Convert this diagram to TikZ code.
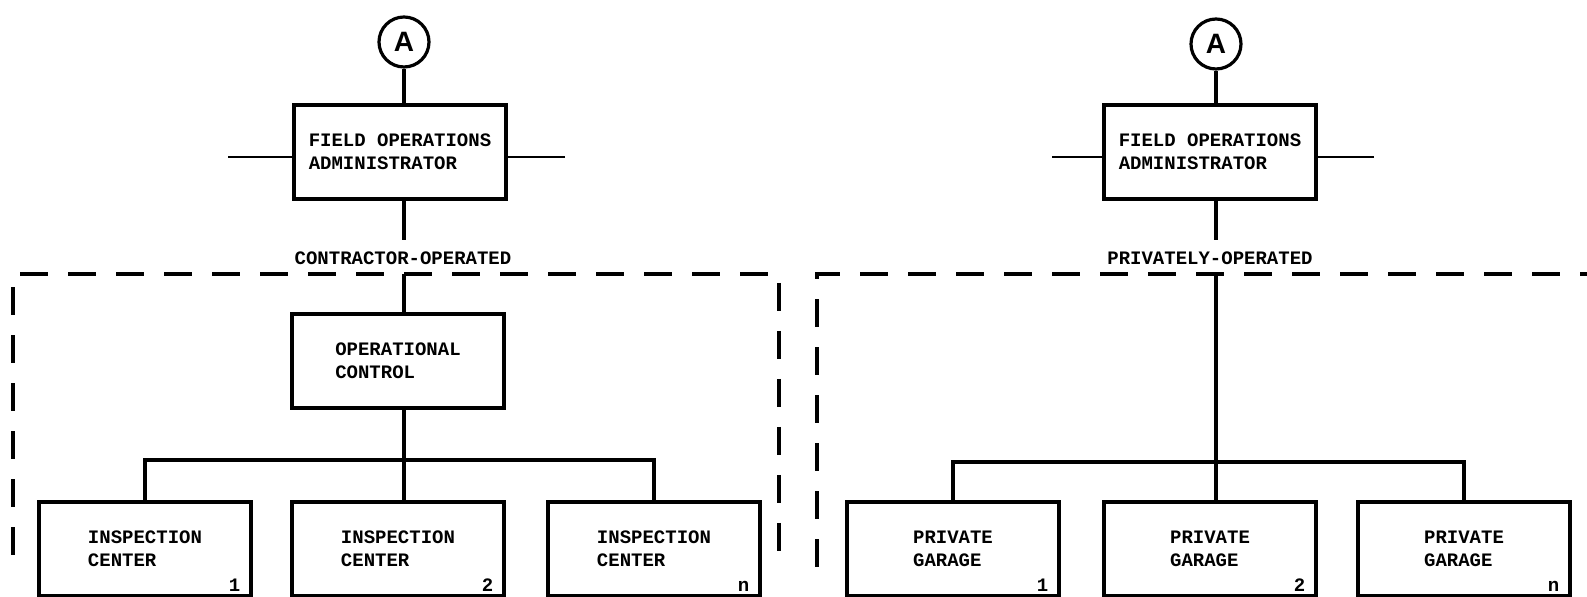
\documentclass[tikz,border=0pt]{standalone}
\usepackage{fontspec}
\newfontfamily\chartfont{Liberation Mono}
\newfontfamily\markfont{Liberation Sans}
\usetikzlibrary{positioning}
\tikzset{
  org box/.style={draw=black, line width=1.6pt, minimum width=106pt, minimum height=47pt,
    inner sep=0pt, align=left, font=\chartfont\bfseries\fontsize{9.5}{11.5}\selectfont},
  sector label/.style={font=\chartfont\bfseries\fontsize{9.5}{11}\selectfont, inner sep=0pt},
  unit tag/.style={font=\chartfont\bfseries\fontsize{9.5}{11}\selectfont, inner sep=0pt, anchor=south east},
  link circle/.style={circle, draw=black, line width=1.6pt, minimum size=25pt, inner sep=0pt,
    font=\markfont\bfseries\fontsize{14}{14}\selectfont},
  tie line/.style={draw=black, line width=1.6pt},
  stub line/.style={draw=black, line width=1.4pt},
  boundary/.style={draw=black, line width=1.9pt, dash pattern=on 14pt off 10pt},
}

\begin{document}
\begin{tikzpicture}[x=0.5pt, y=-0.5pt]
  \useasboundingbox (0,0) rectangle (1587,597);

  % Contractor-operated side.
  \node[link circle] (linkL) at (404,42) {A};
  \node[org box] (foaL) at (400,152) {FIELD OPERATIONS\\ADMINISTRATOR};
  \node[sector label] (contract) at (403,258) {CONTRACTOR-OPERATED};
  \node[org box] (ctrl) at (398,361) {OPERATIONAL\\CONTROL};
  \node[org box] (ic1) at (145,549) {INSPECTION\\CENTER};
  \node[org box] (ic2) at (398,549) {INSPECTION\\CENTER};
  \node[org box] (ic3) at (654,549) {INSPECTION\\CENTER};
  \node[unit tag] (ic1n) at ([xshift=-6pt,yshift=3pt]ic1.south east) {1};
  \node[unit tag] (ic2n) at ([xshift=-6pt,yshift=3pt]ic2.south east) {2};
  \node[unit tag] (ic3n) at ([xshift=-6pt,yshift=3pt]ic3.south east) {n};

  % Privately-operated side.
  \node[link circle] (linkR) at (1216,44) {A};
  \node[org box] (foaR) at (1210,152) {FIELD OPERATIONS\\ADMINISTRATOR};
  \node[sector label] (private) at (1210,258) {PRIVATELY-OPERATED};
  \node[org box] (pg1) at (953,549) {PRIVATE\\GARAGE};
  \node[org box] (pg2) at (1210,549) {PRIVATE\\GARAGE};
  \node[org box] (pg3) at (1464,549) {PRIVATE\\GARAGE};
  \node[unit tag] (pg1n) at ([xshift=-6pt,yshift=3pt]pg1.south east) {1};
  \node[unit tag] (pg2n) at ([xshift=-6pt,yshift=3pt]pg2.south east) {2};
  \node[unit tag] (pg3n) at ([xshift=-6pt,yshift=3pt]pg3.south east) {n};

  % Boundary and junction points.
  \coordinate (stubLa) at (228,157);
  \coordinate (stubLb) at (565,157);
  \coordinate (stubRa) at (1052,157);
  \coordinate (stubRb) at (1374,157);
  \coordinate (spineL) at (404,240);
  \coordinate (spineR) at (1216,240);
  \coordinate (edgeL) at (404,274);
  \coordinate (edgeR) at (1216,274);
  \coordinate (forkL) at (404,460);
  \coordinate (forkR) at (1216,462);

  \coordinate (zoneLbl) at (13,555);
  \coordinate (zoneLtl) at (13,274);
  \coordinate (zoneLtr) at (779,274);
  \coordinate (zoneLbr) at (779,570);
  \coordinate (zoneRbl) at (817,567);
  \coordinate (zoneRtl) at (817,274);
  \coordinate (zoneRtr) at (1587,274);

  \draw[boundary] (zoneLbl) -- (zoneLtl) -- (zoneLtr) -- (zoneLbr);
  \draw[boundary] (zoneRbl) -- (zoneRtl) -- (zoneRtr);

  % Reporting lines.
  \draw[stub line] (stubLa) -- (stubLa -| foaL.west);
  \draw[stub line] (stubLb) -- (stubLb -| foaL.east);
  \draw[stub line] (stubRa) -- (stubRa -| foaR.west);
  \draw[stub line] (stubRb) -- (stubRb -| foaR.east);

  \draw[tie line] (linkL.south) -- (linkL.south |- foaL.north);
  \draw[tie line] (spineL |- foaL.south) -- (spineL);
  \draw[tie line] (edgeL) -- (edgeL |- ctrl.north);
  \draw[tie line] (forkL |- ctrl.south) -- (forkL |- ic2.north);
  \draw[tie line] (ic1.north) |- (forkL) -| (ic3.north);

  \draw[tie line] (linkR.south) -- (linkR.south |- foaR.north);
  \draw[tie line] (spineR |- foaR.south) -- (spineR);
  \draw[tie line] (edgeR) -- (forkR |- pg2.north);
  \draw[tie line] (pg1.north) |- (forkR) -| (pg3.north);
\end{tikzpicture}
\end{document}
